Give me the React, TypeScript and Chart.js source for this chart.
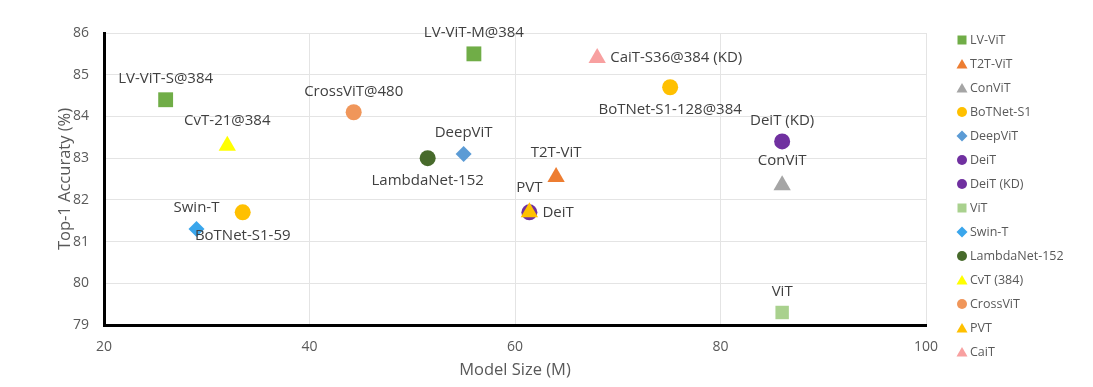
import React, { useEffect, useRef } from 'react';
import { Chart, registerables } from 'chart.js';

Chart.register(...registerables);

// ---------- data ----------
const seriesNames = [
  'LV-ViT', 'T2T-ViT', 'ConViT', 'BoTNet-S1', 'DeepViT', 'DeiT', 'DeiT (KD)',
  'ViT', 'Swin-T', 'LambdaNet-152', 'CvT (384)', 'CrossViT', 'PVT', 'CaiT',
];
const modelSizes = [
  [26, 56], [64], [86], [75.1, 33.5], [55], [61.4], [86],
  [86], [29], [51.5], [32], [44.3], [61.4], [68],
];
const accuracies = [
  [84.4, 85.5], [82.55], [82.35], [84.7, 81.7], [83.1], [81.7], [83.4],
  [79.3], [81.3], [83.0], [83.3], [84.1], [81.7], [85.4],
];
const pointLabels = [
  ['LV-ViT-S@384', 'LV-ViT-M@384'], ['T2T-ViT'], ['ConViT'], ['BoTNet-S1-128@384', 'BoTNet-S1-59'],
  ['DeepViT'], ['DeiT'], ['DeiT (KD)'], ['ViT'], ['Swin-T'], ['LambdaNet-152'],
  ['CvT-21@384'], ['CrossViT@480'], ['PVT'], ['CaiT-S36@384 (KD)'],
];
const xTickValues = [20, 40, 60, 80, 100];
const yTickValues = [79, 80, 81, 82, 83, 84, 85, 86];
const xTitle = 'Model Size (M)';
const yTitle = 'Top-1 Accuraty (%)';

// ---------- styles ----------
const seriesColors = [
  '#70AD47', '#ED7D31', '#A5A5A5', '#FFC000', '#5B9BD5', '#7030A0', '#7030A0',
  '#A9D18E', '#3AA6EC', '#476A2B', '#FFFF00', '#F0965A', '#FFC000', '#F8A0A0',
];
const seriesShapes = [
  'rect', 'triangle', 'triangle', 'circle', 'rectRot', 'circle', 'circle',
  'rect', 'rectRot', 'circle', 'triangle', 'circle', 'triangle', 'triangle',
];
const seriesRadius = [10.5, 10, 10, 8, 8, 8, 8, 9.5, 8, 8, 10, 8, 10, 10];
const labelPlacement = [
  ['above', 'above'], ['above'], ['above'], ['below', 'below'], ['above'], ['right'], ['above'],
  ['above'], ['above'], ['below'], ['above'], ['above'], ['above'], ['right'],
];

const FONT = '"Open Sans", "DejaVu Sans", sans-serif';
const TEXT = '#404040';
const AXIS_TEXT = '#595959';

function drawLegendMarker(ctx: CanvasRenderingContext2D, shape: string, x: number, y: number, color: string) {
  ctx.fillStyle = color;
  ctx.beginPath();
  if (shape === 'rect') {
    ctx.rect(x - 4.5, y - 4.5, 9, 9);
  } else if (shape === 'circle') {
    ctx.arc(x, y, 5, 0, Math.PI * 2);
  } else if (shape === 'triangle') {
    ctx.moveTo(x, y - 5);
    ctx.lineTo(x + 5.5, y + 4.5);
    ctx.lineTo(x - 5.5, y + 4.5);
    ctx.closePath();
  } else {
    ctx.moveTo(x, y - 5.5);
    ctx.lineTo(x + 5.5, y);
    ctx.lineTo(x, y + 5.5);
    ctx.lineTo(x - 5.5, y);
    ctx.closePath();
  }
  ctx.fill();
}

const pointLabelPlugin = {
  id: 'pointLabelPlugin',
  afterDatasetsDraw(chart: any) {
    const ctx: CanvasRenderingContext2D = chart.ctx;
    ctx.save();
    ctx.font = `15px ${FONT}`;
    ctx.fillStyle = TEXT;
    chart.data.datasets.forEach((ds: any, di: number) => {
      const meta = chart.getDatasetMeta(di);
      meta.data.forEach((el: any, pi: number) => {
        const text = pointLabels[di][pi];
        const mode = labelPlacement[di][pi];
        const isTri = seriesShapes[di] === 'triangle';
        const x = el.x;
        const y = el.y;
        if (mode === 'right') {
          ctx.textAlign = 'left';
          ctx.textBaseline = 'middle';
          ctx.fillText(text, x + 13, y);
        } else if (mode === 'below') {
          ctx.textAlign = 'center';
          ctx.textBaseline = 'middle';
          ctx.fillText(text, x, y + 23);
        } else {
          ctx.textAlign = 'center';
          ctx.textBaseline = 'middle';
          ctx.fillText(text, x, y - (isTri ? 24.5 : 21));
        }
      });
    });
    ctx.restore();
  },
};

const legendPlugin = {
  id: 'sideLegend',
  afterDraw(chart: any) {
    const ctx: CanvasRenderingContext2D = chart.ctx;
    ctx.save();
    ctx.font = `12.5px ${FONT}`;
    ctx.textAlign = 'left';
    ctx.textBaseline = 'middle';
    seriesNames.forEach((name, i) => {
      const y = 40 + i * 24;
      drawLegendMarker(ctx, seriesShapes[i], 962, y, seriesColors[i]);
      ctx.fillStyle = AXIS_TEXT;
      ctx.fillText(name, 970, y);
    });
    ctx.restore();
  },
};

export default function App() {
  const canvasRef = useRef<HTMLCanvasElement | null>(null);

  useEffect(() => {
    document.body.style.margin = '0';
    document.body.style.overflow = 'hidden';
    const canvas = canvasRef.current;
    if (!canvas) return;

    const datasets = seriesNames.map((name, i) => ({
      label: name,
      data: modelSizes[i].map((x, j) => ({ x, y: accuracies[i][j] })),
      backgroundColor: seriesColors[i],
      borderColor: seriesColors[i],
      pointStyle: seriesShapes[i],
      pointRadius: seriesRadius[i],
      pointHoverRadius: seriesRadius[i],
      pointBorderWidth: 0,
      borderWidth: 0,
      showLine: false,
      order: name === 'PVT' ? -1 : 0,
    }));

    const chart = new Chart(canvas, {
      type: 'scatter',
      data: { datasets },
      options: {
        animation: false,
        responsive: false,
        events: [],
        layout: { padding: { left: 55, right: 167, top: 33, bottom: 7 } },
        plugins: {
          legend: { display: false },
          tooltip: { enabled: false },
        },
        scales: {
          x: {
            type: 'linear',
            min: xTickValues[0],
            max: xTickValues[xTickValues.length - 1],
            afterBuildTicks: (s: any) => { s.ticks = xTickValues.map((v) => ({ value: v })); },
            afterFit: (s: any) => { s.height = 55; },
            ticks: { color: AXIS_TEXT, font: { family: FONT, size: 14 }, padding: 14 },
            grid: { color: '#E4E4E4', drawTicks: false, lineWidth: 1 },
            border: { display: true, color: '#000000', width: 3 },
            title: {
              display: true, text: xTitle, color: AXIS_TEXT,
              font: { family: FONT, size: 16.5 }, padding: 0,
            },
          },
          y: {
            type: 'linear',
            min: yTickValues[0],
            max: yTickValues[yTickValues.length - 1],
            afterBuildTicks: (s: any) => { s.ticks = yTickValues.map((v) => ({ value: v })); },
            afterFit: (s: any) => { s.width = 49; },
            ticks: { color: AXIS_TEXT, font: { family: FONT, size: 14 }, padding: 15 },
            grid: { color: '#E4E4E4', drawTicks: false, lineWidth: 1 },
            border: { display: true, color: '#000000', width: 3 },
            title: {
              display: true, text: yTitle, color: AXIS_TEXT,
              font: { family: FONT, size: 16.5 }, padding: 0,
            },
          },
        },
      },
      plugins: [pointLabelPlugin, legendPlugin],
    } as any);

    return () => chart.destroy();
  }, []);

  return (
    <div style={{ width: 1093, height: 387, background: '#ffffff' }}>
      <canvas ref={canvasRef} width={1093} height={387} style={{ display: 'block' }} />
    </div>
  );
}
